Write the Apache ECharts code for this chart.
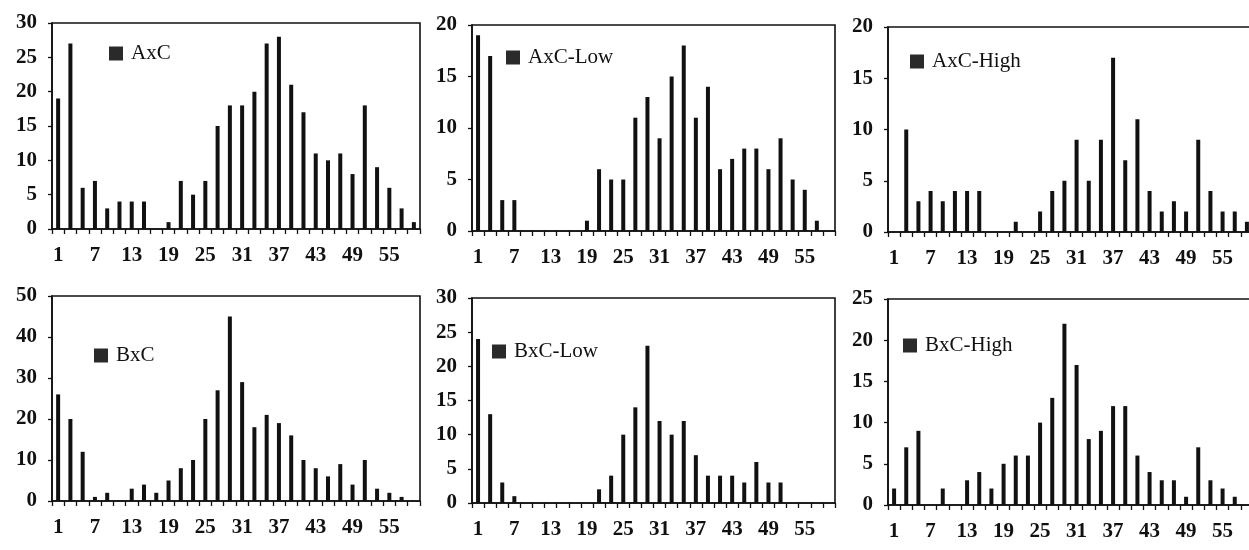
<!DOCTYPE html>
<html>
<head>
<meta charset="utf-8">
<script src="https://cdn.jsdelivr.net/npm/echarts@6/dist/echarts.min.js"></script>
<style>
html,body{margin:0;padding:0;background:#fff;}
#chart{width:1249px;height:550px;}
</style>
</head>
<body>
<div id="chart"></div>
<script>
const categories = [1,3,5,7,9,11,13,15,17,19,21,23,25,27,29,31,33,35,37,39,41,43,45,47,49,51,53,55,57,59];
const panelNames = ['AxC','AxC-Low','AxC-High','BxC','BxC-Low','BxC-High'];
const axcValues     = [19,27,6,7,3,4,4,4,0,1,7,5,7,15,18,18,20,27,28,21,17,11,10,11,8,18,9,6,3,1];
const axcLowValues  = [19,17,3,3,0,0,0,0,0,1,6,5,5,11,13,9,15,18,11,14,6,7,8,8,6,9,5,4,1,0];
const axcHighValues = [0,10,3,4,3,4,4,4,0,0,1,0,2,4,5,9,5,9,17,7,11,4,2,3,2,9,4,2,2,1];
const bxcValues     = [26,20,12,1,2,0,3,4,2,5,8,10,20,27,45,29,18,21,19,16,10,8,6,9,4,10,3,2,1,0];
const bxcLowValues  = [24,13,3,1,0,0,0,0,0,0,2,4,10,14,23,12,10,12,7,4,4,4,3,6,3,3,0,0,0,0];
const bxcHighValues = [2,7,9,0,2,0,3,4,2,5,6,6,10,13,22,17,8,9,12,12,6,4,3,3,1,7,3,2,1,0];
const yMax      = [30,20,20,50,30,25];
const yInterval = [5,5,5,10,5,5];

const seriesValues = [axcValues, axcLowValues, axcHighValues, bxcValues, bxcLowValues, bxcHighValues];

// layout
const grids = [
  {left:52,  top:23,  width:368, height:206},
  {left:472, top:25,  width:363, height:206},
  {left:888, top:27,  width:365, height:205},
  {left:52,  top:296, width:368, height:205},
  {left:472, top:298, width:363, height:205},
  {left:888, top:299, width:365, height:206}
];
const legendPos = [
  {left:109, top:43},
  {left:506, top:47},
  {left:910, top:51},
  {left:94,  top:345},
  {left:492, top:341},
  {left:903, top:335}
];

const font = 'Liberation Serif';
const ink = '#111';

const option = {
  backgroundColor:'#fff',
  animation:false,
  grid: grids.map(g => Object.assign({show:true, borderColor:ink, borderWidth:1.6, backgroundColor:'transparent', outerBoundsMode:'none', containLabel:false}, g)),
  xAxis: grids.map((g,i) => ({
    type:'category', gridIndex:i, data:categories,
    boundaryGap:true,
    axisLine:{show:true, lineStyle:{color:ink, width:1.6}},
    axisTick:{show:true, length:5, interval:0, lineStyle:{color:ink, width:1.3}},
    axisLabel:{interval:2, margin:16, fontFamily:font, fontSize:21, fontWeight:'bold', color:ink},
    splitLine:{show:false}
  })),
  yAxis: grids.map((g,i) => ({
    type:'value', gridIndex:i, min:0, max:yMax[i], interval:yInterval[i],
    axisLine:{show:true, lineStyle:{color:ink, width:1.6}},
    axisTick:{show:true, length:4, lineStyle:{color:ink, width:1.3}},
    axisLabel:{margin:15, fontFamily:font, fontSize:21, fontWeight:'bold', color:ink},
    splitLine:{show:false}
  })),
  legend: panelNames.map((n,i) => ({
    data:[n], left:legendPos[i].left, top:legendPos[i].top, padding:0,
    icon:'rect', itemWidth:14, itemHeight:14, itemGap:0,
    textStyle:{fontFamily:font, fontSize:21, color:ink, lineHeight:21, padding:[0,0,0,3]},
    itemStyle:{color:'#2a2a2a'}
  })),
  series: panelNames.map((n,i) => ({
    name:n, type:'bar', xAxisIndex:i, yAxisIndex:i,
    data:seriesValues[i], barWidth:4,
    itemStyle:{color:ink}
  }))
};

const chart = echarts.init(document.getElementById('chart'), null, {renderer:'canvas'});
chart.setOption(option);
</script>
</body>
</html>
